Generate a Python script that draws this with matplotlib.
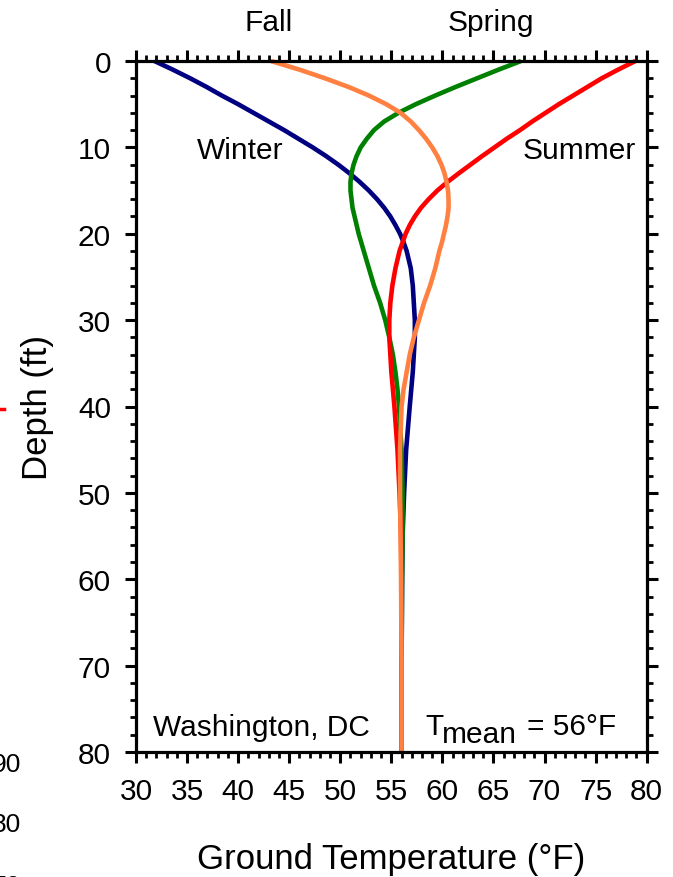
import matplotlib
matplotlib.use("Agg")
import matplotlib.pyplot as plt
from matplotlib.ticker import MultipleLocator
from matplotlib.lines import Line2D

plt.rcParams['font.family'] = ['Liberation Sans', 'DejaVu Sans']

# Depths (ft) at which temperatures were read
depth = [0, 1, 2, 3, 4, 5, 6, 7, 8, 9, 10, 11, 12, 13, 14, 15, 16, 17, 18, 19, 20, 21, 22,
         24, 26, 28, 30, 32, 34, 36, 38, 40,
         45, 50, 55, 60, 70, 80]

winter = [31.8, 33.6, 35.3, 36.9, 38.4, 40.0, 41.5, 43.0, 44.5, 45.9, 47.3, 48.6, 49.8,
          50.9, 51.9, 52.8, 53.6, 54.3, 54.9, 55.4, 55.85, 56.2, 56.5,
          56.9, 57.1, 57.2, 57.3, 57.3, 57.2, 57.1, 56.95, 56.8,
          56.45, 56.25, 56.1, 56.05, 56.0, 56.0]
spring = [67.7, 65.5, 63.4, 61.3, 59.3, 57.4, 55.7, 54.3, 53.3, 52.6, 52.0, 51.6, 51.3,
          51.1, 51.0, 51.0, 51.1, 51.2, 51.4, 51.6, 51.8, 52.05, 52.3,
          52.8, 53.3, 53.9, 54.4, 54.8, 55.15, 55.4, 55.6, 55.75,
          56.0, 56.1, 56.1, 56.05, 56.0, 56.0]
summer = [78.9, 77.2, 75.6, 74.2, 72.8, 71.4, 70.1, 68.8, 67.6, 66.3, 65.1, 63.9, 62.75,
          61.6, 60.5, 59.5, 58.65, 57.9, 57.3, 56.8, 56.4, 56.1, 55.8,
          55.4, 55.1, 54.9, 54.8, 54.8, 54.9, 55.0, 55.15, 55.3,
          55.6, 55.8, 55.95, 56.0, 56.0, 56.0]
fall = [43.2, 46.0, 48.5, 50.8, 52.8, 54.5, 55.9, 56.9, 57.7, 58.4, 59.0, 59.5, 59.9,
        60.2, 60.4, 60.55, 60.6, 60.6, 60.5, 60.35, 60.15, 59.95, 59.7,
        59.3, 58.8, 58.2, 57.7, 57.2, 56.8, 56.5, 56.2, 56.0,
        55.85, 55.85, 55.9, 55.95, 56.0, 56.0]

series_names = ['Winter', 'Spring', 'Summer', 'Fall']
series_colors = ['#000080', '#008000', '#ff0000', '#ff8040']

W, H = 673, 878
fig = plt.figure(figsize=(W / 100, H / 100), dpi=100)
L, R, T, B = 136, 646.7, 62, 753
ax = fig.add_axes([L / W, (H - B) / H, (R - L) / W, (B - T) / H])

for vals, col in zip([winter, spring, summer, fall], series_colors):
    ax.plot(vals, depth, color=col, lw=3.3, clip_on=False, solid_capstyle='butt',
            solid_joinstyle='round')

ax.set_xlim(30, 80)
ax.set_ylim(80, 0)
ax.xaxis.set_major_locator(MultipleLocator(5))
ax.xaxis.set_minor_locator(MultipleLocator(1))
ax.yaxis.set_major_locator(MultipleLocator(10))
ax.yaxis.set_minor_locator(MultipleLocator(2))
ax.tick_params(which='both', direction='out', top=True, right=True,
               labeltop=False, labelright=False, color='black')
ax.tick_params(which='major', length=8, width=2.2, labelsize=21.5, pad=10)
ax.tick_params(which='minor', length=4.5, width=2.0)
for s in ax.spines.values():
    s.set_linewidth(2.3)

fs = 21.5
ax.text((196.7 - L) / (R - L), (B - 159) / (B - T), 'Winter', fontsize=fs,
        transform=ax.transAxes, ha='left', va='baseline')
ax.text((636 - L) / (R - L), (B - 159) / (B - T), 'Summer', fontsize=fs,
        transform=ax.transAxes, ha='right', va='baseline')
ax.text((152.7 - L) / (R - L), (B - 736.5) / (B - T), 'Washington, DC', fontsize=fs,
        transform=ax.transAxes, ha='left', va='baseline')
ax.text((425 - L) / (R - L), (B - 735) / (B - T), 'T', fontsize=fs,
        transform=ax.transAxes, ha='left', va='baseline')
ax.text((441.7 - L) / (R - L), (B - 743.3) / (B - T), 'mean', fontsize=fs,
        transform=ax.transAxes, ha='left', va='baseline')
ax.text((526.7 - L) / (R - L), (B - 735) / (B - T), '= 56°F', fontsize=fs,
        transform=ax.transAxes, ha='left', va='baseline')

fig.text(269 / W, 1 - 31 / H, 'Fall', fontsize=fs, ha='center', va='baseline')
fig.text(491 / W, 1 - 31 / H, 'Spring', fontsize=fs, ha='center', va='baseline')

fig.text(391 / W, 1 - 869 / H, 'Ground Temperature (°F)', fontsize=25,
         ha='center', va='baseline')
fig.text(37 / W, 1 - 407 / H, 'Depth (ft)', fontsize=25, rotation=90,
         ha='center', va='center')

# fragments of a neighbouring chart at the left edge (cut off in the reference too)
fig.text(20.7 / W, 1 - 765 / H, '90', fontsize=19, ha='right', va='center')
fig.text(20.7 / W, 1 - 825 / H, '80', fontsize=19, ha='right', va='center')
fig.text(20.7 / W, 1 - 887 / H, '70', fontsize=19, ha='right', va='center')
fig.add_artist(Line2D([0, 3.5 / W], [1 - 410 / H, 1 - 410 / H], color='red',
                      lw=2.5, transform=fig.transFigure))

fig.savefig('out.png', dpi=100)
